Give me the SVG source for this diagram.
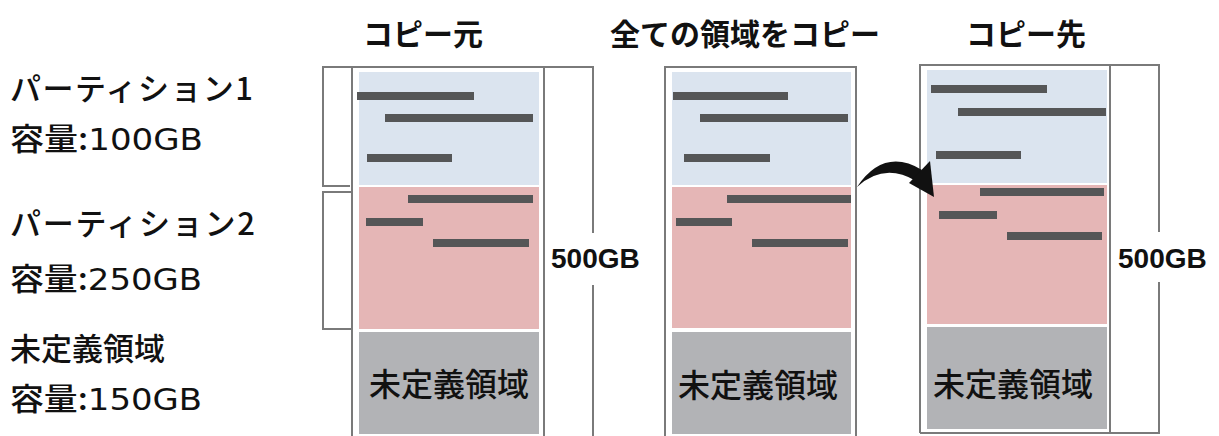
<svg xmlns="http://www.w3.org/2000/svg" width="1219" height="436" viewBox="0 0 1219 436">
<style>
.jp{font-family:"Noto Sans CJK JP","Noto Sans",sans-serif;fill:#111}
.title{font-size:30px;font-weight:bold}
.lbl{font-size:31px;font-weight:500}
.num{font-family:"DejaVu Sans","Noto Sans CJK JP",sans-serif;font-size:31px}
.un{font-size:32px;font-weight:500}
.gb{font-family:"Liberation Sans","DejaVu Sans",sans-serif;font-size:28px;font-weight:bold;fill:#111}
.ol{fill:none;stroke:#7a7a7a;stroke-width:2}
.blue{fill:#dbe4ef}
.pink{fill:#e5b6b6}
.gray{fill:#b2b3b6}
.bar{fill:#555657}
</style>
<rect width="1219" height="436" fill="#fff"/>
<g id="titles">
<text class="jp title" x="363" y="45">コピー元</text>
<text class="jp title" x="610" y="45">全ての領域をコピー</text>
<text class="jp title" x="966" y="45">コピー先</text>
</g>
<g id="labels">
<text class="jp lbl" x="10" y="100" textLength="243">パーティション1</text>
<text class="jp lbl" x="10" y="150" textLength="193" lengthAdjust="spacingAndGlyphs">容量:<tspan class="num">100GB</tspan></text>
<text class="jp lbl" x="10" y="235" textLength="245">パーティション2</text>
<text class="jp lbl" x="10" y="290" textLength="192" lengthAdjust="spacingAndGlyphs">容量:<tspan class="num">250GB</tspan></text>
<text class="jp lbl" x="10" y="360">未定義領域</text>
<text class="jp lbl" x="10" y="410" textLength="192" lengthAdjust="spacingAndGlyphs">容量:<tspan class="num">150GB</tspan></text>
</g>
<g id="source">
<path class="ol" d="M352,67 H323 V186 H350"/>
<path class="ol" d="M352,192 H323 V329 H352"/>
<path class="ol" d="M352,440 V67 H544 V440"/>
<path class="ol" d="M544,67 H593 V233 M593,285 V440"/>
<rect class="blue" x="359" y="72" width="180" height="113"/>
<rect class="pink" x="359" y="187" width="180" height="142"/>
<rect class="gray" x="359" y="332" width="180" height="102"/>
<rect class="bar" x="357" y="92" width="117" height="8"/>
<rect class="bar" x="385" y="114" width="148" height="8"/>
<rect class="bar" x="367" y="154" width="85" height="8"/>
<rect class="bar" x="408" y="195" width="125" height="8"/>
<rect class="bar" x="366" y="218" width="57" height="8"/>
<rect class="bar" x="433" y="239" width="96" height="8"/>
<text class="jp un" x="449" y="396" text-anchor="middle">未定義領域</text>
<text class="gb" x="551" y="268">500GB</text>
</g>
<g id="middle">
<path class="ol" d="M665,440 V67 H856 V440"/>
<rect class="blue" x="672" y="72" width="179" height="113"/>
<rect class="pink" x="672" y="187" width="179" height="141"/>
<rect class="gray" x="672" y="332" width="179" height="102"/>
<rect class="bar" x="673" y="92" width="115" height="8"/>
<rect class="bar" x="700" y="114" width="148" height="8"/>
<rect class="bar" x="684" y="154" width="86" height="8"/>
<rect class="bar" x="727" y="195" width="124" height="8"/>
<rect class="bar" x="676" y="218" width="56" height="8"/>
<rect class="bar" x="752" y="239" width="96" height="8"/>
<text class="jp un" x="758" y="397" text-anchor="middle">未定義領域</text>
</g>
<g id="dest">
<path class="ol" d="M920,433 V65 H1110 V433"/>
<path class="ol" d="M1110,65 H1159 V232 M1159,282 V433 H920"/>
<rect class="blue" x="927" y="70" width="180" height="113"/>
<rect class="pink" x="927" y="185" width="180" height="139"/>
<rect class="gray" x="927" y="327" width="180" height="102"/>
<rect class="bar" x="931" y="85" width="116" height="8"/>
<rect class="bar" x="958" y="108" width="148" height="8"/>
<rect class="bar" x="936" y="151" width="85" height="8"/>
<rect class="bar" x="980" y="188" width="124" height="8"/>
<rect class="bar" x="939" y="211" width="58" height="8"/>
<rect class="bar" x="1007" y="232" width="95" height="8"/>
<text class="jp un" x="1013" y="396" text-anchor="middle">未定義領域</text>
<text class="gb" x="1118" y="268">500GB</text>
</g>
<g id="connectors">
<path d="M857,187 Q884,147 922,170 L916,181 Q884,162 857,187 Z" fill="#111"/>
<path d="M909,183 L930,161 L934,197 Z" fill="#111"/>
</g>
</svg>
